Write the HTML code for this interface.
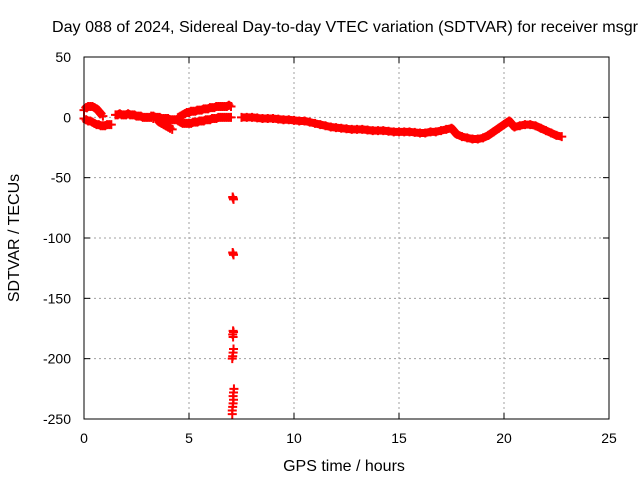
<!DOCTYPE html>
<html><head><meta charset="utf-8"><style>
body{margin:0;background:#fff;width:640px;height:480px;overflow:hidden}
svg text{font-family:"Liberation Sans",sans-serif;font-size:14px;fill:#000}
svg text.big{font-size:16px}
</style></head><body>
<svg id="chart" width="640" height="480">
<text class="big" x="52" y="32" textLength="586" lengthAdjust="spacingAndGlyphs">Day 088 of 2024, Sidereal Day-to-day VTEC variation (SDTVAR) for receiver msgr</text>
<g id="grid"></g><g id="ticks"></g><g id="pts"></g>
<rect x="84" y="57" width="525" height="362" fill="none" stroke="#000" stroke-width="1"/>
<text class="big" x="344" y="471" text-anchor="middle">GPS time / hours</text>
<text class="big" transform="translate(19,238) rotate(-90)" text-anchor="middle">SDTVAR / TECUs</text>
</svg>
<script>
const xTicks=[0,5,10,15,20,25];
const yTicks=[50,0,-50,-100,-150,-200,-250];
const seriesStarts=[0,0,1.5,3.5,3.2,4.5,4.5,7.5];
const seriesSteps=[0.1,0.1,0.1,0.1,0.1,0.1,0.1,0.25];
const s1=[6,8,9,9,9,8,7,5,3,1];
const s2=[-1,-2,-3,-3,-4,-5,-6,-6,-7,-7,-7,-6,-6,-6];
const s3=[2,2,3,2,2,2,3,2,2,2,1,1,1,0,0,0,0,0,-1];
const s4=[-2,-4,-5,-6,-7,-8,-9,-10];
const s5=[1,1,0,0,0,-1,-1,-1,-1,-2,-2,-2,-2,-2];
const s6=[0,1,2,3,4,4,5,5,5,6,6,6,7,7,7,8,8,8,9,9,9,9,9,9,10,9];
const s7=[-3,-4,-5,-5,-5,-5,-5,-4,-4,-4,-3,-3,-3,-2,-2,-2,-1,-1,-1,0,0,0,0,0,0,0];
const s8=[0,0,0,-0.5,-1,-1,-1,-1.5,-2,-2,-2.5,-3,-3,-4,-5,-6,-7,-8,-8.5,-9,-9.5,-10,-10,-10,-10.5,-11,-11,-11,-11.5,-12,-12,-12,-12,-12.5,-13,-13,-12,-12,-11,-10,-9,-14,-16,-17,-18,-18,-17,-15,-12,-9,-6,-3,-8,-7,-6,-6,-7,-9,-11,-13,-15,-16];
const outlierTimes=[7.08,7.1,7.12,7.08,7.1,7.12,7.1,7.12,7.08,7.1,7.12,7.1,7.08,7.06,7.14,7.12,7.1,7.12,7.1,7.08,7.06,7.06];
const outlierValues=[-66,-67,-68,-112,-113,-114,-177,-178,-180,-182,-192,-195,-198,-200,-225,-228,-231,-234,-237,-240,-243,-246];
const allSeries=[s1,s2,s3,s4,s5,s6,s7,s8];
const X=t=>84+t*21, Y=v=>57+(50-v)*362/300;
const NS="http://www.w3.org/2000/svg";
const mk=(tag,a,p)=>{const e=document.createElementNS(NS,tag);for(const k in a)e.setAttribute(k,a[k]);p.appendChild(e);return e;};
const grid=document.getElementById('grid'),ticks=document.getElementById('ticks'),pts=document.getElementById('pts');
xTicks.forEach(t=>{const x=X(t);
 if(t>0&&t<25){const l=mk('line',{x1:x,x2:x,y1:57,y2:419,stroke:'#a0a0a0','stroke-dasharray':'2,3'},grid);
 
 }
 mk('line',{x1:x,x2:x,y1:419,y2:413,stroke:'#000'},ticks);mk('line',{x1:x,x2:x,y1:57,y2:63,stroke:'#000'},ticks);
 const tx=mk('text',{x:x,y:443,'text-anchor':'middle'},ticks);tx.textContent=t;
 
 });
yTicks.forEach(v=>{const y=Y(v);
 if(v<50&&v>-250){const l=mk('line',{x1:84,x2:609,y1:y,y2:y,stroke:'#a0a0a0','stroke-dasharray':'2,3'},grid);
 
 }
 mk('line',{x1:84,x2:90,y1:y,y2:y,stroke:'#000'},ticks);mk('line',{x1:603,x2:609,y1:y,y2:y,stroke:'#000'},ticks);
 const tx=mk('text',{x:71,y:y+5,'text-anchor':'end'},ticks);tx.textContent=v;
 
 });
function plus(t,v){const x=X(t),y=Y(v);
 const p=mk('path',{d:`M${x-4.5},${y}h9M${x},${y-4.5}v9`,stroke:'#f00','stroke-width':2},pts);
 
 }
allSeries.forEach((s,i)=>{
 const d=s.map((v,j)=>(j?'L':'M')+X(seriesStarts[i]+j*seriesSteps[i])+','+Y(v)).join('');
 const band=mk('path',{d:d,stroke:'#f00','stroke-width':8,fill:'none','stroke-linejoin':'round'},pts);
 
 
 s.forEach((v,j)=>plus(seriesStarts[i]+j*seriesSteps[i],v));});
outlierValues.forEach((v,i)=>plus(outlierTimes[i],v));
</script>
</body></html>
